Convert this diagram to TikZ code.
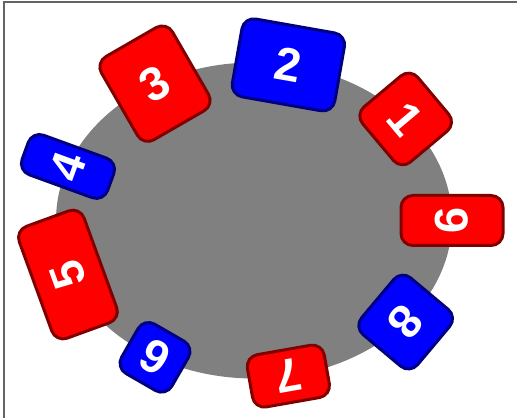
\documentclass[tikz,border=0pt]{standalone}
\usepackage{fontspec}
\setmainfont{Liberation Sans}
\definecolor{cardred}{RGB}{255,0,0}
\definecolor{cardredline}{RGB}{128,0,0}
\definecolor{cardblue}{RGB}{0,0,255}
\definecolor{cardblueline}{RGB}{0,0,128}
\definecolor{framegray}{RGB}{100,100,100}
\tikzset{
  card/.style={rounded corners=12pt, line width=3pt, inner sep=0pt, text=white,
    font=\fontsize{47}{47}\selectfont\bfseries},
  redcard/.style={card, fill=cardred, draw=cardredline},
  bluecard/.style={card, fill=cardblue, draw=cardblueline},
}
\newcommand{\cx}{254}
\newcommand{\cy}{197.5}
\newcommand{\rx}{198}
\newcommand{\ry}{158}
\begin{document}
\begin{tikzpicture}[x=1pt,y=1pt]
\useasboundingbox (0,0) rectangle (517,418);
\fill[white] (0,0) rectangle (517,418);
\draw[framegray, line width=1.5pt] (4,0) -- (4,416) -- (517,416);
\fill[gray] (\cx,\cy) ellipse [x radius=\rx, y radius=\ry];
\node[redcard, minimum width=72pt, minimum height=72pt, rotate=-50] (n1) at ({\cx+\rx*cos(40)},{\cy+\ry*sin(40)}) {1};
\node[bluecard, minimum width=104pt, minimum height=79pt, rotate=-10] (n2) at ({\cx+\rx*cos(80)},{\cy+\ry*sin(80)}) {2};
\node[redcard, minimum width=82pt, minimum height=96pt, rotate=30] (n3) at ({\cx+\rx*cos(120)},{\cy+\ry*sin(120)}) {3};
\node[bluecard, minimum width=42pt, minimum height=91pt, rotate=70] (n4) at ({\cx+\rx*cos(160)},{\cy+\ry*sin(160)}) {4};
\node[redcard, minimum width=119pt, minimum height=69pt, rotate=110] (n5) at ({\cx+\rx*cos(200)},{\cy+\ry*sin(200)}) {5};
\node[bluecard, minimum width=58pt, minimum height=57pt, rotate=150] (n6) at ({\cx+\rx*cos(240)},{\cy+\ry*sin(240)}) {6};
\node[redcard, minimum width=78pt, minimum height=53pt, rotate=190] (n7) at ({\cx+\rx*cos(280)},{\cy+\ry*sin(280)}) {7};
\node[bluecard, minimum width=74pt, minimum height=73pt, rotate=230] (n8) at ({\cx+\rx*cos(320)},{\cy+\ry*sin(320)}) {8};
\node[redcard, minimum width=50pt, minimum height=102pt, rotate=270] (n9) at ({\cx+\rx*cos(360)},{\cy+\ry*sin(360)}) {9};
\end{tikzpicture}
\end{document}
